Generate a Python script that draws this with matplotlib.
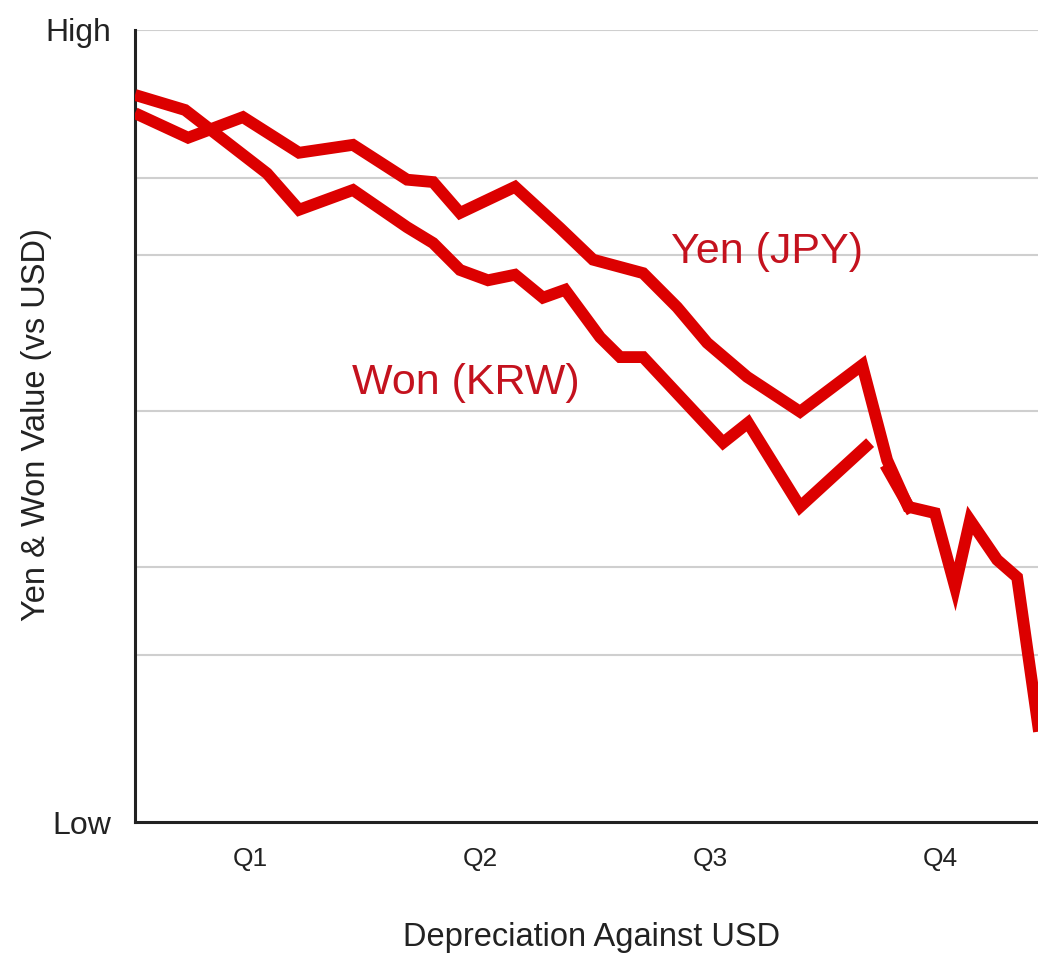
import numpy as np
import matplotlib
matplotlib.use("Agg")
import matplotlib.pyplot as plt

plt.rcParams['font.family'] = ['Liberation Sans', 'DejaVu Sans']

# x: weeks into year (0-52), y: value index (0 = Low, 100 = High)
yen_weeks = [0, 3.0, 6.1, 9.27, 12.32, 15.38, 16.85, 18.37, 21.48, 24.02, 25.89, 28.72,
             30.64, 32.34, 34.6, 37.59, 41.1, 42.51, 43.7, 45.22, 46.35, 47.2, 48.73,
             49.86, 51.16]
yen_value = [89.5, 86.4, 89.0, 84.5, 85.5, 81.1, 80.8, 76.9, 80.2, 75.0, 71.0, 69.3,
             65.0, 60.5, 56.2, 51.8, 57.7, 45.7, 39.8, 39.0, 29.7, 38.1, 33.1,
             30.9, 10.4]

won_weeks = [0, 2.83, 7.46, 9.27, 12.32, 15.38, 16.85, 18.37, 19.95, 21.48, 23.06, 24.31,
             26.29, 27.42, 28.72, 33.24, 34.65, 37.59, 41.55, 41.9, 42.4, 43.92]
won_value = [91.8, 89.9, 81.9, 77.3, 79.8, 75.1, 73.1, 69.7, 68.4, 69.1, 66.2, 67.2,
             61.2, 58.7, 58.7, 47.9, 50.4, 39.8, 47.9, np.nan, 45.1, 39.1]

quarters = ['Q1', 'Q2', 'Q3', 'Q4']
quarter_centers = [6.5, 19.5, 32.5, 45.5]
grid_levels = [81.3, 71.6, 51.9, 32.2, 21.1, 100]

fig = plt.figure(figsize=(10.38, 9.57), dpi=100)
ax = fig.add_axes([135/1038, (957-822)/957, (1055-135)/1038, (822-30)/957])

line_color = '#dc0000'
label_color = '#c4121e'
text_color = '#222222'

for g in grid_levels:
    ax.axhline(g, color='#cfcfcf', lw=1.5, zorder=1)

ax.plot(yen_weeks, yen_value, color=line_color, lw=8.5, solid_joinstyle='miter',
        solid_capstyle='butt', zorder=3, clip_on=True)
ax.plot(won_weeks, won_value, color=line_color, lw=8.5, solid_joinstyle='miter',
        solid_capstyle='butt', zorder=3, clip_on=True)

ax.text(35.7, 72.0, 'Yen (JPY)', color=label_color, fontsize=31, ha='center', va='center')
ax.text(18.7, 55.4, 'Won (KRW)', color=label_color, fontsize=31, ha='center', va='center')

ax.set_xlim(0, 52)
ax.set_ylim(0, 100)
ax.set_xticks(quarter_centers)
ax.set_xticklabels(quarters, fontsize=19, color=text_color)
ax.set_yticks([0, 100])
ax.set_yticklabels(['Low', 'High'], fontsize=23, color=text_color)
ax.tick_params(axis='y', length=0, pad=17)
ax.tick_params(axis='x', length=0, pad=18)

for s in ['top', 'right']:
    ax.spines[s].set_visible(False)
for s in ['left', 'bottom']:
    ax.spines[s].set_color(text_color)
    ax.spines[s].set_linewidth(2.2)

ax.set_xlabel('Depreciation Against USD', fontsize=23.5, color=text_color)
ax.set_ylabel('Yen & Won Value (vs USD)', fontsize=23.5, color=text_color)
ax.xaxis.set_label_coords((592-135)/920, -(922-822)/792)
ax.yaxis.set_label_coords(-(135-52)/920, (822-425)/792)

fig.savefig('out.png', dpi=100)
